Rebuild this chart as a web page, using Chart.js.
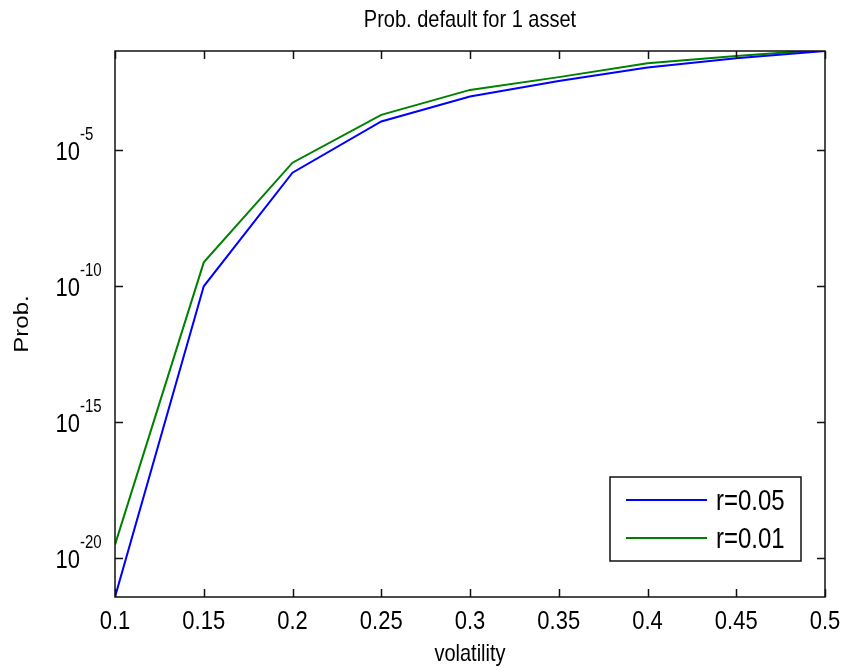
<!DOCTYPE html>
<html>
<head>
<meta charset="utf-8">
<script src="https://cdn.jsdelivr.net/npm/chart.js@4/dist/chart.umd.min.js"></script>
<style>
    html, body { margin: 0; padding: 0; background: #fff; }
</style>
</head>
<body>
<canvas id="probChart" width="843" height="668"></canvas>
<script>
// values
const volatility = [0.1, 0.15, 0.2, 0.25, 0.3, 0.35, 0.4, 0.45, 0.5];
const probR005 = [3.8e-22, 1.0e-10, 1.5e-6, 1.15e-4, 9.5e-4, 3.5e-3, 0.011, 0.024, 0.0447];
const probR001 = [3.2e-20, 7.6e-10, 3.5e-6, 2.0e-4, 1.66e-3, 4.9e-3, 0.0158, 0.0295, 0.05];
const seriesLabels = ['r=0.05', 'r=0.01'];
const seriesColors = ['#0000ff', '#008000'];
const xTicks = [0.1, 0.15, 0.2, 0.25, 0.3, 0.35, 0.4, 0.45, 0.5];
const yTickExps = [-20, -15, -10, -5];
const yMin = 3.8e-22;
const yMax = 0.0447;

const FONT = '"Liberation Sans", Arial, Helvetica, sans-serif';
const STRETCH = 1.2; // the matlab text in the picture is taller than it is wide

function toPoints(xs, ys) {
    return xs.map((x, i) => ({ x: x, y: ys[i] }));
}

function drawText(ctx, text, x, y, size, align, baseline, rotated) {
    ctx.save();
    ctx.translate(x, y);
    if (rotated) {
        ctx.rotate(-Math.PI / 2);
        ctx.scale(STRETCH, 1);
    } else {
        ctx.scale(1, STRETCH);
    }
    ctx.font = size + 'px ' + FONT;
    ctx.textAlign = align;
    ctx.textBaseline = baseline;
    ctx.fillStyle = '#000';
    ctx.fillText(text, 0, 0);
    ctx.restore();
}

// matlab style frame, inward ticks, labels, title and legend
const matlabAxes = {
    id: 'matlabAxes',
    afterDraw(chart) {
        const ctx = chart.ctx;
        const area = chart.chartArea;
        const xs = chart.scales.x;
        const ys = chart.scales.y;
        const tick = 8;

        ctx.save();
        ctx.strokeStyle = '#111';
        ctx.lineWidth = 1.5;
        ctx.strokeRect(area.left, area.top, area.right - area.left, area.bottom - area.top);

        ctx.beginPath();
        xTicks.forEach(v => {
            const px = Math.round(xs.getPixelForValue(v)) + 0.5;
            ctx.moveTo(px, area.bottom); ctx.lineTo(px, area.bottom - tick);
            ctx.moveTo(px, area.top); ctx.lineTo(px, area.top + tick);
        });
        yTickExps.forEach(e => {
            const py = Math.round(ys.getPixelForValue(Math.pow(10, e))) + 0.5;
            ctx.moveTo(area.left, py); ctx.lineTo(area.left + tick, py);
            ctx.moveTo(area.right, py); ctx.lineTo(area.right - tick, py);
        });
        ctx.stroke();

        // x tick labels
        xTicks.forEach(v => {
            const px = xs.getPixelForValue(v);
            drawText(ctx, String(v), px, 629, 22, 'center', 'alphabetic');
        });

        // y tick labels, 10 with raised exponent
        yTickExps.forEach(e => {
            const py = ys.getPixelForValue(Math.pow(10, e));
            drawText(ctx, '10', 80, py + 10, 22, 'right', 'alphabetic');
            drawText(ctx, '-' + Math.abs(e), 80, py - 10, 15, 'left', 'alphabetic');
        });

        // title and axis labels
        const cx = (area.left + area.right) / 2;
        drawText(ctx, 'Prob. default for 1 asset', cx, 27, 20, 'center', 'alphabetic');
        drawText(ctx, 'volatility', cx, 661, 20, 'center', 'alphabetic');
        drawText(ctx, 'Prob.', 22.5, (area.top + area.bottom) / 2, 20, 'center', 'middle', true);

        // legend box
        const lx = 610, ly = 477, lw = 191, lh = 84;
        ctx.fillStyle = '#fff';
        ctx.fillRect(lx, ly, lw, lh);
        ctx.lineWidth = 1.5;
        ctx.strokeStyle = '#111';
        ctx.strokeRect(lx, ly, lw, lh);
        const rows = [500, 538];
        seriesLabels.forEach((lab, i) => {
            ctx.strokeStyle = seriesColors[i];
            ctx.lineWidth = 2;
            ctx.beginPath();
            ctx.moveTo(626, rows[i]);
            ctx.lineTo(707, rows[i]);
            ctx.stroke();
            drawText(ctx, lab, 716, rows[i] + 10, 24, 'left', 'alphabetic');
        });
        ctx.restore();
    }
};

new Chart(document.getElementById('probChart'), {
    type: 'line',
    data: {
        datasets: [
            {
                label: seriesLabels[0],
                data: toPoints(volatility, probR005),
                borderColor: seriesColors[0],
                borderWidth: 2,
                pointRadius: 0,
                tension: 0
            },
            {
                label: seriesLabels[1],
                data: toPoints(volatility, probR001),
                borderColor: seriesColors[1],
                borderWidth: 2,
                pointRadius: 0,
                tension: 0
            }
        ]
    },
    options: {
        responsive: false,
        animation: false,
        events: [],
        layout: { padding: { top: 51, right: 18, left: 0, bottom: 0 } },
        plugins: {
            legend: { display: false },
            title: { display: false },
            tooltip: { enabled: false }
        },
        scales: {
            x: {
                type: 'linear',
                min: 0.1,
                max: 0.5,
                afterBuildTicks: scale => { scale.ticks = xTicks.map(v => ({ value: v })); },
                afterFit: scale => { scale.height = 71; },
                grid: { display: false, drawTicks: false },
                border: { display: false },
                ticks: { display: false }
            },
            y: {
                type: 'logarithmic',
                min: yMin,
                max: yMax,
                afterBuildTicks: scale => { scale.ticks = yTickExps.map(e => ({ value: Math.pow(10, e) })); },
                afterFit: scale => { scale.width = 115; },
                grid: { display: false, drawTicks: false },
                border: { display: false },
                ticks: { display: false }
            }
        }
    },
    plugins: [matlabAxes]
});
</script>
</body>
</html>
